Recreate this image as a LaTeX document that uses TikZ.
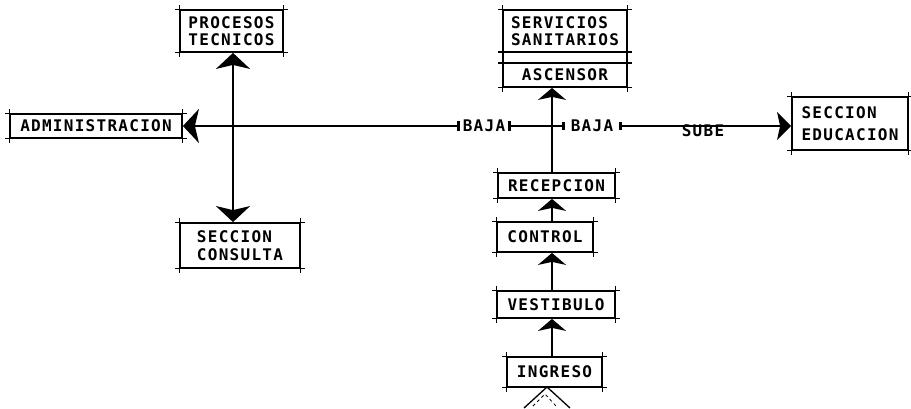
\documentclass[tikz,border=0pt]{standalone}
\usepackage{fontspec}
\setmonofont{DejaVu Sans Mono}[LetterSpace=8]
\usetikzlibrary{arrows.meta}

\begin{document}
\begin{tikzpicture}[
  x=1pt, y=-1pt,
  >={Stealth[length=16pt, width=34pt, inset=4pt]},
  box/.style={draw, line width=1.8pt, inner sep=0pt, align=left,
    font=\ttfamily\bfseries\fontsize{16}{17.5}\selectfont},
  lbl/.style={font=\ttfamily\bfseries\fontsize{16}{17.5}\selectfont, inner sep=3pt},
  over/.style={line width=1.1pt},
  main/.style={line width=2.2pt},
  flow/.style={line width=1.3pt, -{Stealth[length=12pt, width=28pt, inset=3pt]}}
]
  \useasboundingbox (0,0) rectangle (911,408);

  % nodes
  \node[box, minimum width=103pt, minimum height=42pt] (proc)  at (231.5,31)  {PROCESOS\\TECNICOS};
  \node[box, minimum width=172pt, minimum height=24pt] (adm)   at (96,126)    {ADMINISTRACION};
  \node[box, minimum width=120pt, minimum height=45pt] (cons)  at (240,245.5) {SECCION\\CONSULTA};
  \node[box, minimum width=124pt, minimum height=42pt] (serv)  at (565,31)    {SERVICIOS\\SANITARIOS};
  \node[box, minimum width=124pt, minimum height=11pt] (vacio) at (565,57.5)  {};
  \node[box, minimum width=124pt, minimum height=24pt] (asc)   at (565,75)    {ASCENSOR};
  \node[box, minimum width=116pt, minimum height=53pt] (edu)   at (850,123.5) {SECCION\\[5pt]EDUCACION};
  \node[box, minimum width=117pt, minimum height=25pt] (recep) at (556.5,185.5) {RECEPCION};
  \node[box, minimum width=96pt,  minimum height=30pt] (ctrl)  at (545,237)   {CONTROL};
  \node[box, minimum width=118pt, minimum height=27pt] (vest)  at (556,304.5) {VESTIBULO};
  \node[box, minimum width=95pt,  minimum height=30pt] (ing)   at (554.5,372) {INGRESO};

  % corner overshoot of the drafted boxes
  \foreach \n in {proc,adm,cons,serv,vacio,asc,edu,recep,ctrl,vest,ing}{
    \draw[over] ([xshift=-4pt]\n.north west) -- ([xshift=4pt]\n.north east);
    \draw[over] ([xshift=-4pt]\n.south west) -- ([xshift=4pt]\n.south east);
    \draw[over] ([yshift=4pt]\n.north west) -- ([yshift=-4pt]\n.south west);
    \draw[over] ([yshift=4pt]\n.north east) -- ([yshift=-4pt]\n.south east);
  }

  \coordinate (spine) at (552,126);
  \coordinate (lcol)  at (233,126);
  \coordinate (apex)  at (547,387);
  \node[lbl] (baja1) at (484,126) {BAJA};
  \node[lbl, inner xsep=6pt] (baja2) at (592,126) {BAJA};
  \node[lbl] (sube)  at (703,131) {SUBE};

  % edges
  \draw[main, <->] (proc.south -| lcol) -- (cons.north -| lcol);
  \draw[main, <-{Bar[width=10pt]}] (adm.east |- spine) -- (baja1.west |- spine);
  \draw[main, {Bar[width=10pt]}-] (baja1.east |- spine) -- (spine);
  \draw[main, -{Bar[width=8pt]}] (spine) -- (baja2.west |- spine);
  \draw[main, {Bar[width=8pt]}-{Stealth[length=14pt, width=28pt, inset=3pt]}]
    (baja2.east |- spine) -- (edu.west |- spine);
  \draw[flow] (recep.north -| spine) -- (asc.south -| spine);
  \draw[flow] (ctrl.north -| spine) -- (recep.south -| spine);
  \draw[flow] (vest.north -| spine) -- (ctrl.south -| spine);
  \draw[flow] (ing.north -| spine) -- (vest.south -| spine);

  % entrance mark
  \draw[line width=1.3pt] (524,408) -- (apex) -- (570,408);
  \draw[line width=0.8pt, dashed] (533,406) -- (545,394) -- (556,406);
\end{tikzpicture}
\end{document}
